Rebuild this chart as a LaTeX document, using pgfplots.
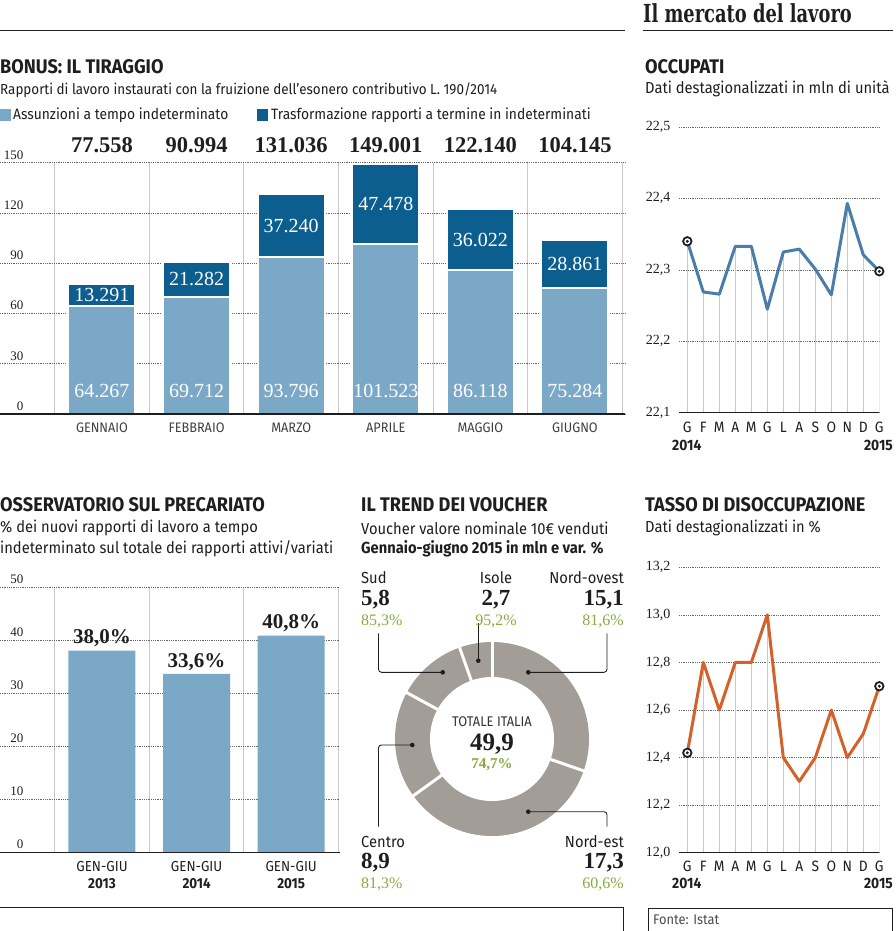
\documentclass[border=0pt]{standalone}
\usepackage{pgfplots}
\pgfplotsset{compat=1.18}
\usepackage{pgfplotstable}
\usepackage{fontspec}
\setmainfont[FakeStretch=0.92]{Fira Sans}
\newfontfamily\sernum{Liberation Serif}
\newfontfamily\ttlfont[FakeStretch=0.72]{DejaVu Serif}

\definecolor{lblue}{HTML}{7CA8C8}
\definecolor{dblue}{HTML}{0B5E8E}
\definecolor{lineblue}{HTML}{4A7DA8}
\definecolor{orng}{HTML}{D3622A}
\definecolor{dgray}{HTML}{A29D96}
\definecolor{grn}{HTML}{88AB3F}
\definecolor{sepc}{HTML}{CFC9C3}
\definecolor{txt}{HTML}{1E1E1E}

\newcommand{\fs}[1]{\fontsize{#1}{#1}\selectfont}

\pgfplotstableread{
i light dark tot
0 64.267 13.291 77.558
1 69.712 21.282 90.994
2 93.796 37.240 131.036
3 101.523 47.478 149.001
4 86.118 36.022 122.140
5 75.284 28.861 104.145
}\bonus

\pgfplotstableread{
i v
0 22.340
1 22.269
2 22.266
3 22.333
4 22.333
5 22.245
6 22.325
7 22.329
8 22.301
9 22.265
10 22.393
11 22.321
12 22.298
}\occ

\pgfplotstableread{
i v
0 12.42
1 12.8
2 12.6
3 12.8
4 12.8
5 13.0
6 12.4
7 12.3
8 12.4
9 12.6
10 12.4
11 12.5
12 12.7
}\dis

% voucher (mln): Nord-ovest, Nord-est, Centro, Sud, Isole
\pgfmathsetmacro\vNO{15.1}
\pgfmathsetmacro\vNE{17.3}
\pgfmathsetmacro\vCE{8.9}
\pgfmathsetmacro\vSU{5.8}
\pgfmathsetmacro\vIS{2.7}
\pgfmathsetmacro\vsum{\vNO+\vNE+\vCE+\vSU+\vIS}
\pgfmathsetmacro\aNO{90}
\pgfmathsetmacro\aNE{90-360*(\vNO/\vsum)}
\pgfmathsetmacro\aCE{90-360*((\vNO+\vNE)/\vsum)}
\pgfmathsetmacro\aSU{90-360*((\vNO+\vNE+\vCE)/\vsum)}
\pgfmathsetmacro\aIS{90-360*((\vNO+\vNE+\vCE+\vSU)/\vsum)}

\pgfplotsset{
  base/.style={scale only axis, anchor=south west, axis line style={draw=none},
    major tick length=0pt, minor tick length=0pt, enlargelimits=false,
    /pgf/number format/assume math mode=true,
    ymajorgrids, major grid style={black!60, line width=0.6pt, dash pattern=on 0.8pt off 1pt}},
  lbl/.style={only marks, mark=*, mark size=0pt, mark options={draw=none,fill=none},
    nodes near coords, point meta=explicit symbolic, nodes near coords align=center},
}

\begin{document}
\begin{tikzpicture}
\path[use as bounding box] (0pt,0pt) rectangle (895pt,-931pt);

% ---------- header
\node[anchor=west, inner sep=0pt, text=txt] at (643pt,-13pt) {\ttlfont\bfseries\fs{24.8}Il mercato del lavoro};
\draw[txt, line width=1pt] (0pt,-31pt) -- (625pt,-31pt);
\draw[txt, line width=1pt] (643pt,-31pt) -- (893pt,-31pt);

% ---------- BONUS
\node[anchor=west, inner sep=0pt, text=txt] at (0pt,-67pt) {\bfseries\fs{19.7}BONUS: IL TIRAGGIO};
\node[anchor=west, inner sep=0pt, text=txt] at (0pt,-90pt) {\fs{14.6}Rapporti di lavoro instaurati con la fruizione dell’esonero contributivo L. 190/2014};
\fill[lblue] (0pt,-109pt) rectangle (11pt,-121pt);
\node[anchor=west, inner sep=0pt, text=txt] at (13pt,-115pt) {\fs{15}Assunzioni a tempo indeterminato};
\fill[dblue] (257pt,-109pt) rectangle (268pt,-121pt);
\node[anchor=west, inner sep=0pt, text=txt] at (271pt,-115pt) {\fs{15}Trasformazione rapporti a termine in indeterminati};

\begin{axis}[base,
  at={(0pt,-414pt)}, width=625pt, height=251.3pt,
  xmin=-1.078, xmax=5.529, ymin=0, ymax=150,
  ytick={0,30,60,90,120,150},
  yticklabel style={font=\sernum\fs{13}, text=txt, anchor=south east, xshift=27pt},
  xtick={0,...,5}, xticklabels={GENNAIO,FEBBRAIO,MARZO,APRILE,MAGGIO,GIUGNO},
  xticklabel style={font=\fs{13.8}, text=black!75, anchor=center, yshift=-14pt},
  minor xtick={-0.5,0.5,...,5.5}, xminorgrids, minor grid style={sepc, line width=1pt},
  ybar stacked, bar width=67pt, clip=false]
\addplot[fill=lblue, draw=white, line width=2pt] table[x=i,y=light]{\bonus};
\addplot[fill=dblue, draw=white, line width=2pt] table[x=i,y=dark]{\bonus};
\end{axis}
\begin{axis}[at={(0pt,-414pt)}, anchor=south west, scale only axis, width=625pt, height=251.3pt,
  xmin=-1.078, xmax=5.529, ymin=0, ymax=150, hide axis, clip=false]
\draw[txt, line width=1.2pt] (rel axis cs:0,0) -- (rel axis cs:1,0);
\addplot[lbl, every node near coord/.append style={font=\sernum\fs{20}, text=white}]
  table[x=i, y expr=14, meta=light]{\bonus};
\addplot[lbl, every node near coord/.append style={font=\sernum\fs{20}, text=white}]
  table[x=i, y expr=\thisrow{light}+\thisrow{dark}/2, meta=dark]{\bonus};
\addplot[lbl, every node near coord/.append style={font=\sernum\bfseries\fs{22.5}, text=txt}]
  table[x=i, y expr=160.6, meta=tot]{\bonus};
\end{axis}

% ---------- OCCUPATI
\node[anchor=west, inner sep=0pt, text=txt] at (645pt,-67pt) {\bfseries\fs{19.7}OCCUPATI};
\node[anchor=west, inner sep=0pt, text=txt] at (645pt,-89pt) {\fs{16}Dati destagionalizzati in mln di unità};
\begin{axis}[base,
  at={(679pt,-412.7pt)}, width=200.3pt, height=285.7pt,
  xmin=-0.52, xmax=12, ymin=0, ymax=0.4,
  ytick={0,0.1,0.2,0.3,0.4}, yticklabels={{22,1},{22,2},{22,3},{22,4},{22,5}},
  yticklabel style={font=\sernum\fs{14}, text=txt, anchor=east, xshift=-5pt},
  xtick={0,...,12}, xticklabels={G,F,M,A,M,G,L,A,S,O,N,D,G},
  xticklabel style={font=\fs{15}, text=txt, anchor=center, yshift=-15pt},
  clip mode=individual]
\addplot[ycomb, sepc, line width=1.2pt] table[x=i, y expr=\thisrow{v}-22.1]{\occ};
\addplot[lineblue, line width=3pt, line join=round, mark=none] table[x=i, y expr=\thisrow{v}-22.1]{\occ};
\addplot[only marks, mark=*, mark size=4.2pt, mark options={fill=white, draw=txt, line width=1.8pt}]
  table[x=i, y expr=\thisrow{v}-22.1, skip coords between index={1}{12}]{\occ};
\addplot[only marks, mark=*, mark size=1.3pt, txt]
  table[x=i, y expr=\thisrow{v}-22.1, skip coords between index={1}{12}]{\occ};
\draw[txt, line width=1.2pt] (rel axis cs:0,0) -- (rel axis cs:1,0);
\end{axis}
\node[anchor=west, inner sep=0pt, text=txt] at (672pt,-445pt) {\bfseries\fs{15}2014};
\node[anchor=east, inner sep=0pt, text=txt] at (893pt,-445pt) {\bfseries\fs{15}2015};

% ---------- PRECARIATO
\node[anchor=west, inner sep=0pt, text=txt] at (0pt,-505pt) {\bfseries\fs{19.7}OSSERVATORIO SUL PRECARIATO};
\node[anchor=west, inner sep=0pt, text=txt] at (0pt,-528pt) {\fs{16}\% dei nuovi rapporti di lavoro a tempo};
\node[anchor=west, inner sep=0pt, text=txt] at (0pt,-549pt) {\fs{16}indeterminato sul totale dei rapporti attivi/variati};
\begin{axis}[base,
  at={(0pt,-852.3pt)}, width=340pt, height=265.5pt,
  xmin=-1.078, xmax=2.516, ymin=0, ymax=50,
  ytick={0,10,20,30,40,50},
  yticklabel style={font=\sernum\fs{13}, text=txt, anchor=south east, xshift=27pt},
  xtick={0,1,2},
  xticklabels={{GEN-GIU\\\textbf{2013}},{GEN-GIU\\\textbf{2014}},{GEN-GIU\\\textbf{2015}}},
  xticklabel style={font=\fontsize{14.5}{17}\selectfont, text=txt, align=center, anchor=center, yshift=-23pt},
  minor xtick={-0.5,0.5,1.5,2.5}, xminorgrids, minor grid style={sepc, line width=1pt},
  ybar, bar width=67pt, clip=false]
\addplot[fill=lblue, draw=none, nodes near coords, point meta=explicit symbolic,
  every node near coord/.append style={font=\sernum\bfseries\fs{21}, text=txt}]
  coordinates {(0,38.0) [38,0\%] (1,33.6) [33,6\%] (2,40.8) [40,8\%]};
\draw[txt, line width=1.2pt] (rel axis cs:0,0) -- (rel axis cs:1,0);
\end{axis}

% ---------- VOUCHER
\node[anchor=west, inner sep=0pt, text=txt] at (361pt,-505pt) {\bfseries\fs{19.7}IL TREND DEI VOUCHER};
\node[anchor=west, inner sep=0pt, text=txt] at (361pt,-528pt) {\fs{16}Voucher valore nominale 10€ venduti};
\node[anchor=west, inner sep=0pt, text=txt] at (361pt,-549pt) {\bfseries\fs{16}Gennaio-giugno 2015 in mln e var. \%};
\begin{axis}[at={(492pt,-739pt)}, anchor=center, scale only axis, width=194pt, height=194pt,
  xmin=-1, xmax=1, ymin=-1, ymax=1, hide axis, clip=false]
\fill[dgray] (axis cs:0,0) circle[radius=97pt];
\draw[white, line width=3pt] (axis cs:0,0) -- ++(\aNO:101pt);
\draw[white, line width=3pt] (axis cs:0,0) -- ++(\aNE:101pt);
\draw[white, line width=3pt] (axis cs:0,0) -- ++(\aCE:101pt);
\draw[white, line width=3pt] (axis cs:0,0) -- ++(\aSU:101pt);
\draw[white, line width=3pt] (axis cs:0,0) -- ++(\aIS:101pt);
\fill[white] (axis cs:0,0) circle[radius=62pt];
\end{axis}
\begin{scope}[line width=0.9pt, rounded corners=3pt, txt]
\draw (442.7pt,-672.3pt) -- (378.5pt,-672.3pt) -- (378.5pt,-633.3pt);
\draw (478.3pt,-660.7pt) -- (478.3pt,-623.3pt);
\draw (528.3pt,-672.3pt) -- (607pt,-672.3pt) -- (607pt,-633.3pt);
\draw (412.3pt,-745pt) -- (378.5pt,-745pt) -- (378.5pt,-826.7pt);
\draw (528.3pt,-811.7pt) -- (607pt,-811.7pt) -- (607pt,-826.7pt);
\end{scope}
\foreach \p in {(442.7pt,-672.3pt),(478.3pt,-660.7pt),(528.3pt,-672.3pt),(412.3pt,-745pt),(528.3pt,-811.7pt)}
  \fill[txt] \p circle[radius=2.3pt];
% labels
\node[anchor=west, inner sep=0pt, text=txt] at (361pt,-578pt) {\fs{16}Sud};
\node[anchor=west, inner sep=0pt, text=txt] at (361pt,-600pt) {\sernum\bfseries\fs{23}5,8};
\node[anchor=west, inner sep=0pt, text=grn] at (361pt,-621pt) {\sernum\fs{16}85,3\%};
\node[anchor=center, inner sep=0pt, text=txt] at (496pt,-578pt) {\fs{16}Isole};
\node[anchor=center, inner sep=0pt, text=txt] at (496pt,-600pt) {\sernum\bfseries\fs{23}2,7};
\node[anchor=center, inner sep=0pt, text=grn] at (496pt,-621pt) {\sernum\fs{16}95,2\%};
\node[anchor=east, inner sep=0pt, text=txt] at (624pt,-578pt) {\fs{16}Nord-ovest};
\node[anchor=east, inner sep=0pt, text=txt] at (624pt,-600pt) {\sernum\bfseries\fs{23}15,1};
\node[anchor=east, inner sep=0pt, text=grn] at (624pt,-621pt) {\sernum\fs{16}81,6\%};
\node[anchor=west, inner sep=0pt, text=txt] at (361pt,-842pt) {\fs{16}Centro};
\node[anchor=west, inner sep=0pt, text=txt] at (361pt,-863pt) {\sernum\bfseries\fs{23}8,9};
\node[anchor=west, inner sep=0pt, text=grn] at (361pt,-884pt) {\sernum\fs{16}81,3\%};
\node[anchor=east, inner sep=0pt, text=txt] at (624pt,-842pt) {\fs{16}Nord-est};
\node[anchor=east, inner sep=0pt, text=txt] at (624pt,-863pt) {\sernum\bfseries\fs{23}17,3};
\node[anchor=east, inner sep=0pt, text=grn] at (624pt,-884pt) {\sernum\fs{16}60,6\%};
\node[anchor=center, inner sep=0pt, text=black!80] at (492pt,-722pt) {\fs{14}TOTALE ITALIA};
\node[anchor=center, inner sep=0pt, text=txt] at (492pt,-744pt) {\sernum\bfseries\fs{25}49,9};
\node[anchor=center, inner sep=0pt, text=grn] at (492pt,-765pt) {\sernum\bfseries\fs{15}74,7\%};

% ---------- DISOCCUPAZIONE
\node[anchor=west, inner sep=0pt, text=txt] at (645pt,-505pt) {\bfseries\fs{19.7}TASSO DI DISOCCUPAZIONE};
\node[anchor=west, inner sep=0pt, text=txt] at (645pt,-528pt) {\fs{16}Dati destagionalizzati in \%};
\begin{axis}[base,
  at={(679pt,-852.7pt)}, width=200.3pt, height=285.4pt,
  xmin=-0.52, xmax=12, ymin=0, ymax=1.2,
  ytick={0,0.2,0.4,0.6,0.8,1.0,1.2}, yticklabels={{12,0},{12,2},{12,4},{12,6},{12,8},{13,0},{13,2}},
  yticklabel style={font=\sernum\fs{14}, text=txt, anchor=east, xshift=-5pt},
  xtick={0,...,12}, xticklabels={G,F,M,A,M,G,L,A,S,O,N,D,G},
  xticklabel style={font=\fs{15}, text=txt, anchor=center, yshift=-14pt},
  clip mode=individual]
\addplot[ycomb, sepc, line width=1.2pt] table[x=i, y expr=\thisrow{v}-12]{\dis};
\addplot[orng, line width=3pt, line join=round, mark=none] table[x=i, y expr=\thisrow{v}-12]{\dis};
\addplot[only marks, mark=*, mark size=4.2pt, mark options={fill=white, draw=txt, line width=1.8pt}]
  table[x=i, y expr=\thisrow{v}-12, skip coords between index={1}{12}]{\dis};
\addplot[only marks, mark=*, mark size=1.3pt, txt]
  table[x=i, y expr=\thisrow{v}-12, skip coords between index={1}{12}]{\dis};
\draw[txt, line width=1.2pt] (rel axis cs:0,0) -- (rel axis cs:1,0);
\end{axis}
\node[anchor=west, inner sep=0pt, text=txt] at (672pt,-883pt) {\bfseries\fs{15}2014};
\node[anchor=east, inner sep=0pt, text=txt] at (893pt,-883pt) {\bfseries\fs{15}2015};

% ---------- bottom rules
\draw[txt, line width=1pt] (0pt,-907.7pt) -- (623pt,-907.7pt) -- (623pt,-931pt);
\draw[txt, line width=1pt] (648pt,-931pt) -- (648pt,-908pt) -- (892pt,-908pt) -- (892pt,-931pt);
\node[anchor=west, inner sep=0pt, text=black!70] at (653pt,-920pt) {\fs{14}Fonte: Istat};
\end{tikzpicture}
\end{document}
